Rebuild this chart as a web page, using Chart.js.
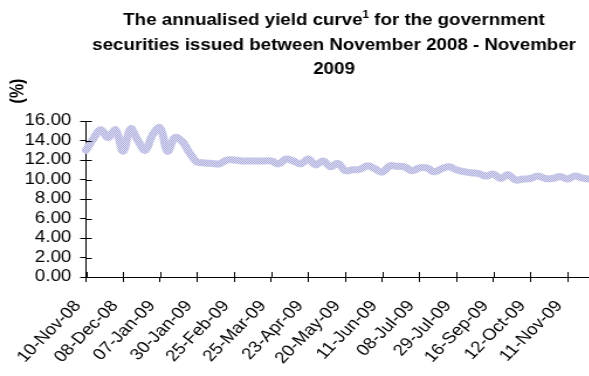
<!DOCTYPE html>
<html>
<head>
<meta charset="utf-8">
<script src="https://cdn.jsdelivr.net/npm/chart.js@4"></script>
<style>
  html, body { margin: 0; padding: 0; background: #fff; overflow: hidden; }
  /* the chart is laid out narrower and widened to fill the page */
  #wrap { width: 504px; height: 376px; transform: scaleX(1.17); transform-origin: 0 0; }
</style>
</head>
<body>
<div id="wrap"><canvas id="yieldChart" width="504" height="376"></canvas></div>
<script>
// issue dates shown on the axis, one every PER_LABEL issues
const tickLabels = ['10-Nov-08', '08-Dec-08', '07-Jan-09', '30-Jan-09', '25-Feb-09', '25-Mar-09',
  '23-Apr-09', '20-May-09', '11-Jun-09', '08-Jul-09', '29-Jul-09', '16-Sep-09', '12-Oct-09', '11-Nov-09'];
const PER_LABEL = 5;

// annualised yield, %
const yields = [
  13.0, 14.2, 15.1, 14.3, 15.1, 12.9, 15.2, 14.0, 13.0, 14.6,
  15.3, 12.9, 14.3, 13.9, 12.7, 11.8, 11.7, 11.65, 11.6, 12.0,
  12.0, 11.9, 11.9, 11.9, 11.9, 11.9, 11.6, 12.1, 11.9, 11.6,
  12.1, 11.5, 11.9, 11.3, 11.65, 10.9, 11.0, 11.05, 11.4, 11.1,
  10.75, 11.4, 11.35, 11.3, 10.9, 11.2, 11.2, 10.8, 11.1, 11.3,
  11.0, 10.8, 10.7, 10.6, 10.35, 10.55, 10.1, 10.5, 9.95, 10.05,
  10.1, 10.35, 10.1, 10.1, 10.3, 10.05, 10.35, 10.15, 10.05
];

const yMin = 0, yMax = 16, yStep = 2;

const categories = yields.map((v, i) =>
  i % PER_LABEL === 0 ? (tickLabels[i / PER_LABEL] || '') : '');

const FONT = '"Liberation Sans", Arial, sans-serif';
const TICK = 5;

const canvas = document.getElementById('yieldChart');
const ctx = canvas.getContext('2d');

// checkered lavender fill for the thick line
function checkerPattern() {
  const c = document.createElement('canvas');
  c.width = 2; c.height = 2;
  const g = c.getContext('2d');
  g.fillStyle = '#e0e0f2';
  g.fillRect(0, 0, 2, 2);
  g.fillStyle = '#aaaadc';
  g.fillRect(0, 0, 1, 1);
  g.fillRect(1, 1, 1, 1);
  return ctx.createPattern(c, 'repeat');
}

// title with a superscript note marker, the "(%)" unit and the inner half of each tick mark
const decorations = {
  id: 'decorations',
  afterDraw(chart) {
    const { ctx, scales: { x, y } } = chart;
    ctx.save();
    ctx.strokeStyle = '#000';
    ctx.lineWidth = 1;
    ctx.beginPath();
    y.ticks.forEach((t, i) => {
      const py = Math.round(y.getPixelForTick(i)) + 0.5;
      ctx.moveTo(x.left, py);
      ctx.lineTo(x.left + TICK, py);
    });
    x.ticks.forEach((t, i) => {
      if (i % PER_LABEL !== 0) return;
      const px = Math.round(x.getPixelForTick(i)) + 0.5;
      ctx.moveTo(px, y.bottom - TICK);
      ctx.lineTo(px, y.bottom);
    });
    ctx.stroke();

    ctx.fillStyle = '#000';
    ctx.textBaseline = 'middle';
    const cx = 285.5;
    const big = 'bold 16px ' + FONT, small = 'bold 10px ' + FONT;
    const a = 'The annualised yield curve', sup = '1', b = ' for the government';
    ctx.font = big;
    const wa = ctx.measureText(a).width, wb = ctx.measureText(b).width;
    ctx.font = small;
    const ws = ctx.measureText(sup).width;
    const sx = cx - (wa + ws + wb) / 2;
    ctx.textAlign = 'left';
    ctx.font = big;
    ctx.fillText(a, sx, 21);
    ctx.font = small;
    ctx.fillText(sup, sx + wa, 15);
    ctx.font = big;
    ctx.fillText(b, sx + wa + ws, 21);
    ctx.textAlign = 'center';
    ctx.fillText('securities issued between November 2008 - November', cx, 46);
    ctx.fillText('2009', cx, 70);

    ctx.translate(16, 91);
    ctx.rotate(-Math.PI / 2);
    ctx.fillText('(%)', 0, 0);
    ctx.restore();
  }
};

new Chart(ctx, {
  type: 'line',
  data: {
    labels: categories,
    datasets: [{
      data: yields,
      borderColor: checkerPattern(),
      borderWidth: 7,
      borderCapStyle: 'round',
      borderJoinStyle: 'round',
      tension: 0.4,
      pointRadius: 0,
      fill: false
    }]
  },
  options: {
    responsive: false,
    animation: false,
    layout: { padding: { top: 121, right: 0, left: 0, bottom: 0 } },
    plugins: { legend: { display: false }, tooltip: { enabled: false } },
    scales: {
      x: {
        type: 'category',
        offset: false,
        border: { display: true, color: '#000', width: 1 },
        grid: {
          drawOnChartArea: false,
          tickLength: TICK,
          tickColor: c => (c.index % PER_LABEL === 0 ? '#000' : 'rgba(0,0,0,0)')
        },
        ticks: {
          autoSkip: false,
          maxRotation: 49.5,
          minRotation: 49.5,
          color: '#000',
          padding: 15,
          labelOffset: -7,
          font: { family: FONT, size: 16 }
        },
        afterFit: s => { s.height = 99; s.paddingRight = 0; }
      },
      y: {
        min: yMin,
        max: yMax,
        border: { display: true, color: '#000', width: 1 },
        grid: { drawOnChartArea: false, tickLength: TICK, tickColor: '#000' },
        ticks: {
          stepSize: yStep,
          autoSkip: false,
          color: '#000',
          padding: 7.5,
          font: { family: FONT, size: 16 },
          callback: v => v.toFixed(2)
        },
        afterFit: s => { s.width = 73.5; }
      }
    }
  },
  plugins: [decorations]
});
</script>
</body>
</html>
